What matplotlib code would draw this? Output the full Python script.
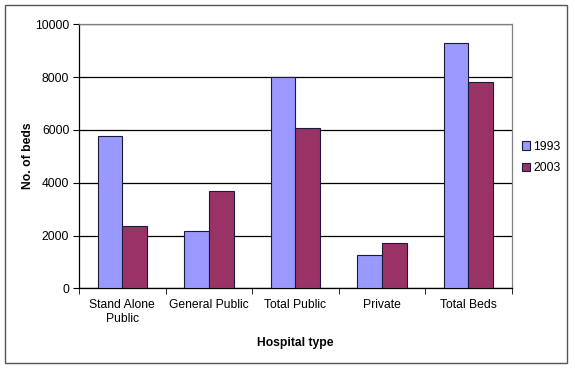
import matplotlib
matplotlib.use("Agg")
import matplotlib.pyplot as plt
import numpy as np
from matplotlib.patches import Rectangle

categories = ["Stand Alone\nPublic", "General Public", "Total Public", "Private", "Total Beds"]
beds_1993 = [5770, 2180, 8000, 1270, 9280]
beds_2003 = [2370, 3700, 6060, 1730, 7800]
years = ["1993", "2003"]

plt.rcParams["font.family"] = ["Liberation Sans", "DejaVu Sans"]

fig = plt.figure(figsize=(5.75, 3.7), dpi=100)
ax = fig.add_axes([0.1374, 0.2208, 0.7526, 0.7135])

x = np.arange(len(categories))
w = 0.286
ax.bar(x - w / 2, beds_1993, w, color="#9999FF", edgecolor="#1a1a3a", linewidth=0.8,
       label=years[0], zorder=3)
ax.bar(x + w / 2, beds_2003, w, color="#993366", edgecolor="#1a1a3a", linewidth=0.8,
       label=years[1], zorder=3)

ax.set_xlim(-0.5, len(categories) - 0.5)
ax.set_ylim(0, 10000)
ax.set_yticks(np.arange(0, 10001, 2000))
ax.yaxis.grid(True, color="black", linewidth=0.9, zorder=0)
ax.set_axisbelow(True)

ax.set_xticks(x)
ax.set_xticklabels(categories, fontsize=8.7)
ax.tick_params(axis="x", length=0, pad=8)
ax.set_xticks(np.arange(-0.5, len(categories)), minor=True)
ax.tick_params(axis="x", which="minor", length=4, direction="out", color="black")
ax.tick_params(axis="y", labelsize=8.7, length=4, direction="out", pad=3)

for side in ["top", "right"]:
    ax.spines[side].set_color("#808080")
    ax.spines[side].set_linewidth(0.9)
for side in ["left", "bottom"]:
    ax.spines[side].set_color("black")
    ax.spines[side].set_linewidth(0.9)

fig.text(0.513, 0.072, "Hospital type", ha="center", va="center",
         fontsize=8.7, fontweight="bold")
fig.text(0.049, 0.58, "No. of beds", ha="center", va="center",
         fontsize=8.7, fontweight="bold", rotation=90)

leg = fig.legend(loc="center left", bbox_to_anchor=(0.908, 0.575), frameon=False,
                 fontsize=8.7, handlelength=0.65, handleheight=0.65,
                 handletextpad=0.25, labelspacing=0.75, borderaxespad=0,
                 borderpad=0)

fig.patches.append(Rectangle((5 / 575, 1 - 362.5 / 370), 562 / 575, 357.5 / 370,
                             transform=fig.transFigure, fill=False,
                             edgecolor="#555555", linewidth=1.0))

fig.savefig("out.png", dpi=100)
